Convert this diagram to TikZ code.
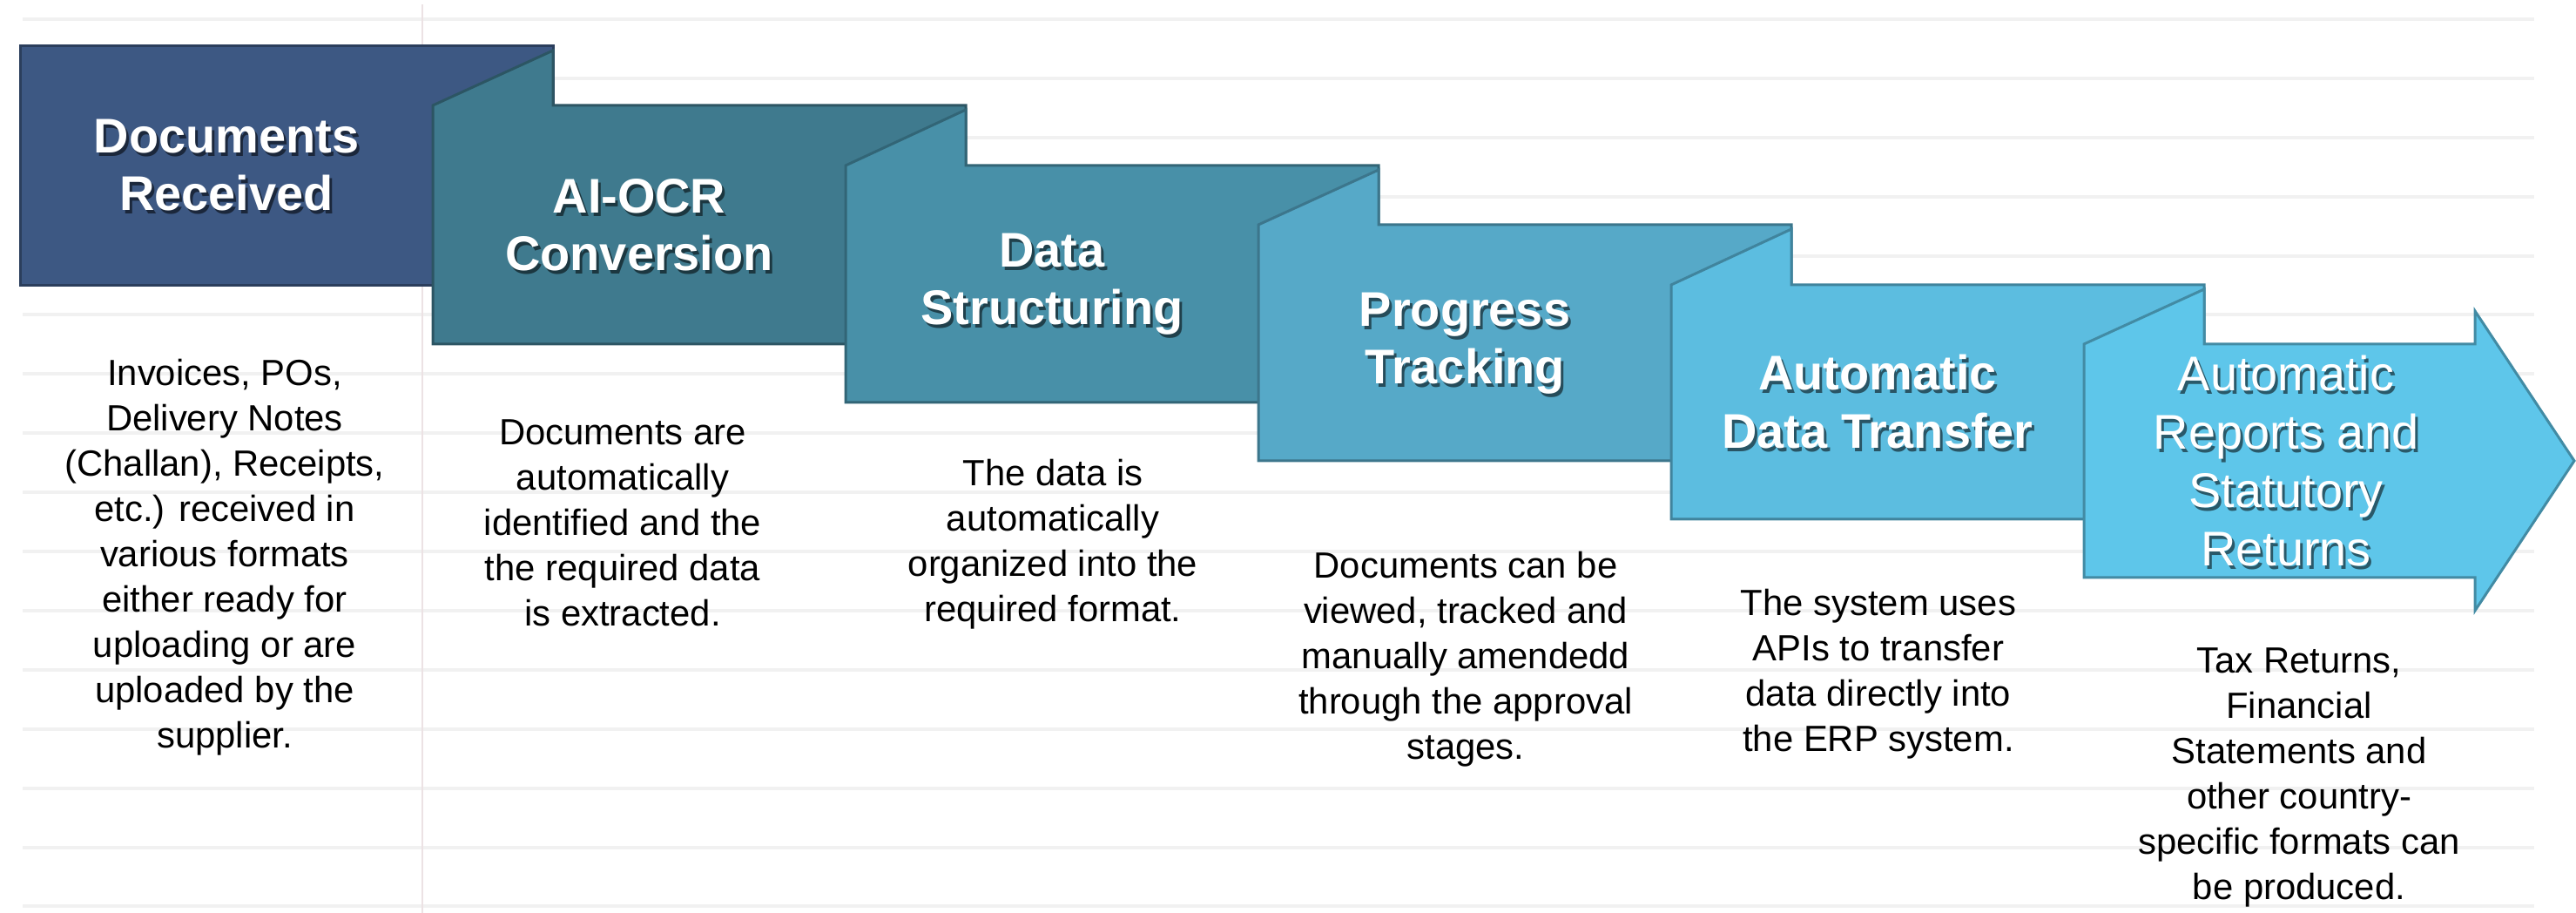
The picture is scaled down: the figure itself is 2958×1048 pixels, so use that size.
\documentclass[tikz,border=0pt]{standalone}
\usepackage{fontspec}
\setmainfont{Liberation Sans}
\usepackage{tikz}

\definecolor{stepA}{RGB}{61,88,131}
\definecolor{stepB}{RGB}{63,122,142}
\definecolor{stepC}{RGB}{72,144,168}
\definecolor{stepD}{RGB}{86,169,200}
\definecolor{stepE}{RGB}{92,189,224}
\definecolor{stepF}{RGB}{94,198,234}
\definecolor{gridgray}{RGB}{241,241,241}
\definecolor{rulepink}{RGB}{236,226,228}

\begin{document}
\begin{tikzpicture}[x=0.1mm,y=-0.1mm,
  every node/.style={inner sep=0pt,align=center},
  ttl/.style={text=white,font=\bfseries\fontsize{15.9pt}{18.8pt}\selectfont},
  ttlthin/.style={text=white,font=\fontsize{15.9pt}{19pt}\selectfont},
  shd/.style={text=black,text opacity=0.55},
  desc/.style={anchor=north,text=black,font=\fontsize{11.9pt}{14.8pt}\selectfont},
  grid/.style={draw=gridgray,line width=0.4mm},
  stepbox/.style={fill=#1,draw=#1!70!black,line width=0.3mm,line join=miter}]
\useasboundingbox (0,0) rectangle (2958,1048);

% background rules
\draw[grid] (26,22) -- (2910,22)   (26,90) -- (2910,90)   (26,158) -- (2910,158)
  (26,226) -- (2910,226) (26,294) -- (2910,294) (26,361) -- (2910,361)
  (26,429) -- (2910,429) (26,497) -- (2910,497) (26,565) -- (2910,565)
  (26,633) -- (2910,633) (26,701) -- (2910,701) (26,769) -- (2910,769)
  (26,837) -- (2910,837) (26,905) -- (2910,905) (26,973) -- (2910,973)
  (26,1040) -- (2910,1040);
\draw[rulepink,line width=0.2mm] (485,5) -- (485,1048);

% steps
\filldraw[stepbox=stepA] (23,53) rectangle (635,328);
\filldraw[stepbox=stepB] (497,395) -- (497,121) -- (635,58) -- (635,121) -- (1109,121) -- (1109,395) -- cycle;
\filldraw[stepbox=stepC] (971,462) -- (971,190) -- (1109,126) -- (1109,190) -- (1583,190) -- (1583,462) -- cycle;
\filldraw[stepbox=stepD] (1445,529) -- (1445,258) -- (1583,195) -- (1583,258) -- (2057,258) -- (2057,529) -- cycle;
\filldraw[stepbox=stepE] (1919,596) -- (1919,327) -- (2057,263) -- (2057,327) -- (2531,327) -- (2531,596) -- cycle;
\filldraw[stepbox=stepF] (2393,663) -- (2393,395) -- (2531,332) -- (2531,395) -- (2842,395) -- (2842,357)
  -- (2956,529) -- (2842,701) -- (2842,663) -- cycle;

% titles
\node[ttl,shd] (t1s) at (263,194) {Documents\\Received};
\node[ttl] (t1) at (260,190) {Documents\\Received};
\node[ttl,shd] (t2s) at (737,262) {AI-OCR\\Conversion};
\node[ttl] (t2) at (734,258) {AI-OCR\\Conversion};
\node[ttl,shd] (t3s) at (1211,330) {Data\\Structuring};
\node[ttl] (t3) at (1208,326) {Data\\Structuring};
\node[ttl,shd] (t4s) at (1685,398) {Progress\\Tracking};
\node[ttl] (t4) at (1682,394) {Progress\\Tracking};
\node[ttl,shd] (t5s) at (2159,465) {Automatic\\Data Transfer};
\node[ttl] (t5) at (2156,461) {Automatic\\Data Transfer};
\node[ttlthin,shd] (t6s) at (2628,533) {Automatic\\Reports and\\Statutory\\Returns};
\node[ttlthin] (t6) at (2625,529) {Automatic\\Reports and\\Statutory\\Returns};

% descriptions
\node[desc] (d1) at (258,411) {Invoices, POs,\\Delivery Notes\\(Challan), Receipts,\\etc.) received in\\various formats\\either ready for\\uploading or are\\uploaded by the\\supplier.};
\node[desc] (d2) at (715,481) {Documents are\\automatically\\identified and the\\the required data\\is extracted.};
\node[desc] (d3) at (1209,526) {The data is\\automatically\\organized into the\\required format.};
\node[desc] (d4) at (1683,632) {Documents can be\\viewed, tracked and\\manually amendedd\\through the approval\\stages.};
\node[desc] (d5) at (2157,675) {The system uses\\APIs to transfer\\data directly into\\the ERP system.};
\node[desc] (d6) at (2640,743) {Tax Returns,\\Financial\\Statements and\\other country-\\specific formats can\\be produced.};
\end{tikzpicture}
\end{document}
